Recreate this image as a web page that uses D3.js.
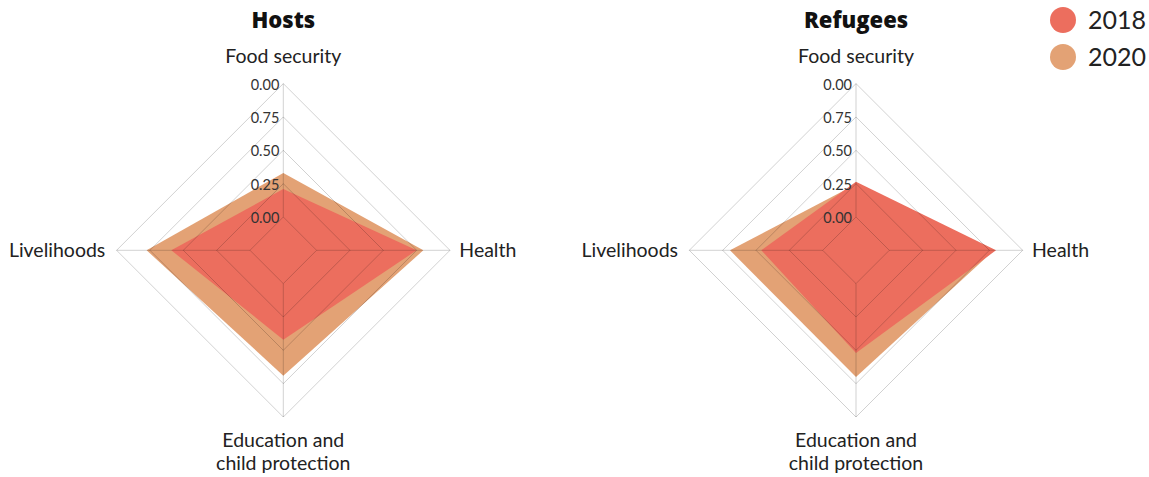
<!DOCTYPE html>
<html><head><meta charset="utf-8">
<script src="https://cdn.jsdelivr.net/npm/d3@7"></script>
<style>
body{margin:0;background:#fff;}
svg{display:block;font-family:Lato,"Noto Sans",sans-serif;}
</style></head>
<body>
<svg id="chart" width="1149" height="477"></svg>
<script>
const axes = ["Food security","Health","Education and\nchild protection","Livelihoods"];
const panels = ["Hosts","Refugees"];
const years = ["2018","2020"];
const colors = ["#ec6e5e","#e3a275"];
const hosts2018 = [0.21, 0.75, 0.42, 0.59];
const hosts2020 = [0.33, 0.80, 0.69, 0.775];
const refugees2018 = [0.265, 0.80, 0.52, 0.46];
const refugees2020 = [0.245, 0.785, 0.70, 0.695];
const tickValues = [0, 0.25, 0.5, 0.75, 1];
const tickLabels = ["0.00","0.25","0.50","0.75","0.00"];

const data = {Hosts:[hosts2018, hosts2020], Refugees:[refugees2018, refugees2020]};
const svg = d3.select("#chart");
const r = d3.scaleLinear().domain([0,1]).range([33.3,166.7]);
const angle = d3.scaleLinear().domain([0, axes.length]).range([0, 2*Math.PI]);
const centers = d3.scalePoint().domain(panels).range([283.3, 856]);
const cy = 250.3;
const pt = (i, v) => [Math.sin(angle(i))*r(v), -Math.cos(angle(i))*r(v)];

panels.forEach(p => {
  const g = svg.append("g").attr("transform", `translate(${centers(p)},${cy})`);
  g.append("text").attr("x",0).attr("y",-222).attr("text-anchor","middle")
    .attr("font-family","'Open Sans',sans-serif")
    .attr("font-size",22).attr("font-weight",800).attr("fill","#111").text(p);
  const line = d3.line().curve(d3.curveLinearClosed);
  [1,0].forEach(k => {
    g.append("path").attr("d", line(data[p][k].map((v,i)=>pt(i,v))))
      .attr("fill", colors[k]).attr("stroke","none");
  });
  tickValues.forEach(t => {
    g.append("path").attr("d", line(axes.map((a,i)=>pt(i,t))))
      .attr("fill","none").attr("stroke","rgba(0,0,0,0.18)").attr("stroke-width",1);
  });
  axes.forEach((a,i) => {
    const [x0,y0] = pt(i,0), [x1,y1] = pt(i,1);
    g.append("line").attr("x1",x0).attr("y1",y0).attr("x2",x1).attr("y2",y1)
      .attr("stroke","rgba(0,0,0,0.18)").attr("stroke-width",1);
  });
  tickValues.forEach((t,j) => {
    g.append("text").attr("x",-4).attr("y",-r(t)).attr("dy","0.42em")
      .attr("text-anchor","end").attr("font-size",14.5).attr("fill","#333").text(tickLabels[j]);
  });
  const lp = [
    {x:0, y:-194, a:"middle"},
    {x:176, y:0, a:"start"},
    {x:0, y:190, a:"middle"},
    {x:-178, y:0, a:"end"}
  ];
  axes.forEach((a,i) => {
    const lines = a.split("\n");
    const t = g.append("text").attr("x",lp[i].x).attr("y",lp[i].y)
      .attr("text-anchor",lp[i].a).attr("font-size",19.5).attr("fill","#222");
    lines.forEach((l,k) => t.append("tspan").attr("x",lp[i].x).attr("dy", k===0 ? "0.35em" : "1.18em").text(l));
  });
});

const lg = svg.append("g");
years.forEach((y,i) => {
  lg.append("circle").attr("cx",1063).attr("cy",20+i*37).attr("r",13).attr("fill",colors[i]);
  lg.append("text").attr("x",1088).attr("y",20+i*37).attr("dy","0.36em")
    .attr("font-size",25).attr("fill","#222").text(y);
});
</script>
</body></html>
